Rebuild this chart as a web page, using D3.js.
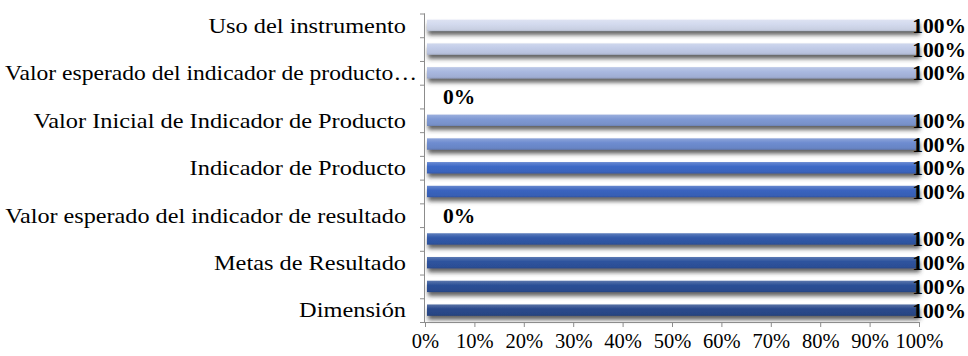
<!DOCTYPE html>
<html>
<head>
<meta charset="utf-8">
<script src="https://cdn.jsdelivr.net/npm/d3@7"></script>
<style>
  html, body { margin: 0; padding: 0; background: #fff; }
  svg { display: block; }
</style>
</head>
<body>
<svg id="chart" width="968" height="356"></svg>
<script>
// Categories, bottom to top (only every other label is displayed, as in the source)
const categories = [
  "Dimensión",
  "Sector",
  "Metas de Resultado",
  "Indicador de Resultado",
  "Valor esperado del indicador de resultado",
  "Metas de Producto",
  "Indicador de Producto",
  "Unidad de Medida",
  "Valor Inicial de Indicador de Producto",
  "Valor esperado del indicador de producto por año",
  "Valor esperado del indicador de producto…",
  "Responsable",
  "Uso del instrumento"
];
const values = [1, 1, 1, 1, 0, 1, 1, 1, 1, 0, 1, 1, 1];
const xTicks = [0, 0.1, 0.2, 0.3, 0.4, 0.5, 0.6, 0.7, 0.8, 0.9, 1];

const barColors = [
  "#2a4a8c", "#2c4f96", "#2e539e", "#3159a9", "#345fb3", "#3a64bf",
  "#3d69c6", "#6e8cd0", "#7f99d4", "#93a8da", "#a9b8e0", "#c2cce8", "#d3daee"
];

const FONT = "'Liberation Serif', 'Times New Roman', serif";
const svg = d3.select("#chart");
const margin = { left: 425, right: 49, top: 13.5, bottom: 34 };
const W = 968, H = 356;

const x = d3.scaleLinear().domain([0, 1]).range([margin.left, W - margin.right]);
const y = d3.scaleBand()
  .domain(d3.range(categories.length).reverse())
  .range([margin.top, H - margin.bottom])
  .paddingInner(0.52).paddingOuter(0.26);

const defs = svg.append("defs");
const f = defs.append("filter").attr("id", "shadow")
  .attr("x", "-2%").attr("y", "-50%").attr("width", "106%").attr("height", "250%");
f.append("feGaussianBlur").attr("in", "SourceAlpha").attr("stdDeviation", 2.2).attr("result", "b");
f.append("feOffset").attr("in", "b").attr("dx", 1).attr("dy", 4).attr("result", "o");
f.append("feFlood").attr("flood-color", "#3a3a3a").attr("flood-opacity", 0.8).attr("result", "c");
f.append("feComposite").attr("in", "c").attr("in2", "o").attr("operator", "in").attr("result", "s");
const fm = f.append("feMerge");
fm.append("feMergeNode").attr("in", "s");
fm.append("feMergeNode").attr("in", "SourceGraphic");

barColors.forEach((c, i) => {
  const g = defs.append("linearGradient").attr("id", "grad" + i)
    .attr("x1", 0).attr("y1", 0).attr("x2", 0).attr("y2", 1);
  const base = d3.color(c);
  g.append("stop").attr("offset", "0%").attr("stop-color", d3.interpolateRgb(c, "#ffffff")(0.22));
  g.append("stop").attr("offset", "40%").attr("stop-color", c);
  g.append("stop").attr("offset", "85%").attr("stop-color", base.darker(0.15));
  g.append("stop").attr("offset", "100%").attr("stop-color", base.darker(0.45));
});

// Bars
svg.append("g").selectAll("rect")
  .data(values.map((v, i) => ({ v, i })).filter(d => d.v > 0))
  .join("rect")
  .attr("x", x(0) + 2)
  .attr("y", d => y(d.i))
  .attr("width", d => x(d.v) - x(0) - 2)
  .attr("height", y.bandwidth())
  .attr("fill", d => `url(#grad${d.i})`)
  .attr("filter", "url(#shadow)");

// Y axis
const yAxis = d3.axisLeft(
  d3.scaleLinear().domain([0, categories.length]).range([H - margin.bottom, margin.top])
).tickValues(d3.range(0, categories.length + 1)).tickSize(5).tickFormat("");
const ya = svg.append("g").attr("transform", `translate(${margin.left},0)`).call(yAxis);
ya.selectAll("path, line").attr("stroke", "#8c8c8c");
ya.select(".domain").attr("d", `M-0.5,${margin.top}V${H - margin.bottom}`);

// X axis
const xAxis = d3.axisBottom(x).tickValues(xTicks).tickSize(5).tickSizeOuter(0)
  .tickFormat(d3.format(".0%"));
const xa = svg.append("g").attr("transform", `translate(0,${H - margin.bottom})`).call(xAxis);
xa.selectAll("path, line").attr("stroke", "#8c8c8c");
xa.selectAll("text")
  .attr("font-family", FONT)
  .attr("font-size", 20.5).attr("fill", "#000").attr("dy", "0.9em");

// Category labels (every other), slightly widened like the source rendering
const SX = 1.16;
const catLabels = svg.append("g").selectAll("text")
  .data(categories.map((c, i) => ({ c, i })).filter(d => d.i % 2 === 0))
  .join("text")
  .attr("dy", "0.35em")
  .attr("text-anchor", "end")
  .attr("font-family", FONT)
  .attr("font-size", 21)
  .attr("fill", "#000")
  .text(d => d.c);
catLabels.each(function (d) {
  const tx = margin.left - 19 + (d.c.endsWith("…") ? 11 : 0);
  const ty = y(d.i) + y.bandwidth() / 2;
  const w = this.getComputedTextLength();
  const sx = Math.min(SX, (tx - 5) / w);
  d3.select(this).attr("transform", `translate(${tx},${ty}) scale(${sx},1)`);
});

// Data labels
const fmt = d3.format(".0%");
svg.append("g").selectAll("text")
  .data(values.map((v, i) => ({ v, i })))
  .join("text")
  .attr("x", d => d.v >= 0.9 ? W - 2 : x(d.v) + 18)
  .attr("text-anchor", d => d.v >= 0.9 ? "end" : "start")
  .attr("y", d => y(d.i) + y.bandwidth() / 2)
  .attr("dy", "0.35em")
  .attr("font-family", FONT)
  .attr("font-weight", "bold")
  .attr("font-size", 21.5)
  .attr("fill", "#000")
  .text(d => fmt(d.v));
</script>
</body>
</html>
